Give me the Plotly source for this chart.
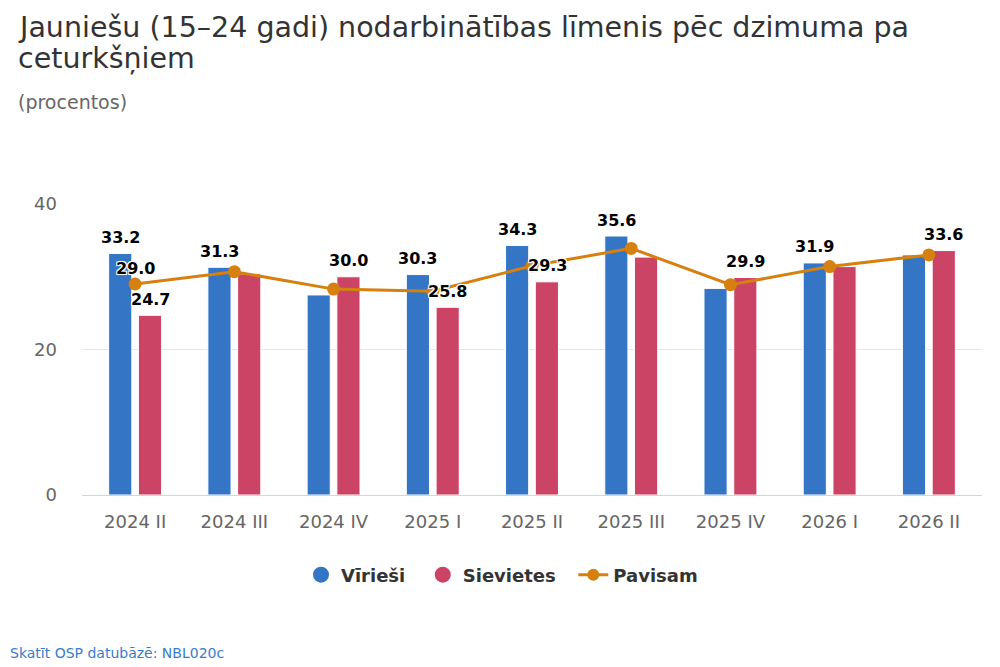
import plotly.graph_objects as go

categories = ["2024 II", "2024 III", "2024 IV", "2025 I", "2025 II",
              "2025 III", "2025 IV", "2026 I", "2026 II"]
male = [33.2, 31.3, 27.5, 30.3, 34.3, 35.6, 28.4, 31.9, 33.0]
female = [24.7, 30.4, 30.0, 25.8, 29.3, 32.7, 29.9, 31.4, 33.6]
total = [29.0, 30.7, 28.3, 28.0, 31.5, 33.9, 28.9, 31.4, 33.0]

# which data labels are visible (others hidden by overlap in the original)
show_male = [1, 1, 0, 1, 1, 1, 0, 1, 0]
show_female = [1, 0, 1, 1, 1, 0, 1, 0, 1]
show_total = [1, 0, 0, 0, 0, 0, 0, 0, 0]

yticks = [0, 20, 40]

C_M = "#3476c5"
C_F = "#cc4465"
C_T = "#d6800f"
FONT = "DejaVu Sans"
OUTLINE = "1px 1px 0 #fff, -1px -1px 0 #fff, 1px -1px 0 #fff, -1px 1px 0 #fff, 0 0 2px #fff"

# page body has an 8px margin; figure sized so it fills the 1000x667 window
W, H = 992, 659
L, R, T, B = 74, 18, 196, 172
PH = H - T - B  # plot height in px
PW = W - L - R


def py(fig_y):
    return (H - B - fig_y) / PH


def px(fig_x):
    return (fig_x - L) / PW


fig = go.Figure()
fig.add_trace(go.Bar(
    x=categories, y=male, name="Vīrieši",
    marker=dict(color=C_M, line=dict(color="#ffffff", width=1)), showlegend=False))
fig.add_trace(go.Bar(
    x=categories, y=female, name="Sievietes",
    marker=dict(color=C_F, line=dict(color="#ffffff", width=1)), showlegend=False))
fig.add_trace(go.Scatter(
    x=categories, y=total, name="Pavisam", mode="lines+markers",
    line=dict(color=C_T, width=3), marker=dict(color=C_T, size=13),
    cliponaxis=False, showlegend=False))

# legend-only entries
NB = "\u00a0\u00a0"
fig.add_trace(go.Scatter(x=[None], y=[None], mode="markers", name="Vīrieši" + NB,
                         marker=dict(color=C_M, size=20, symbol="circle")))
fig.add_trace(go.Scatter(x=[None], y=[None], mode="markers", name="Sievietes" + NB,
                         marker=dict(color=C_F, size=20, symbol="circle")))
fig.add_trace(go.Scatter(x=[None], y=[None], mode="lines+markers", name="Pavisam",
                         line=dict(color=C_T, width=3), marker=dict(color=C_T, size=12)))

lab_font = dict(family=FONT, size=16, color="#000000", weight="bold", shadow=OUTLINE)
annotations = []
for vals, mask, dx in ((male, show_male, -15), (female, show_female, 15), (total, show_total, 0)):
    for c, v, m in zip(categories, vals, mask):
        if m:
            annotations.append(dict(x=c, y=v, xref="x", yref="y", text=f"{v:.1f}",
                                    showarrow=False, xshift=dx, yshift=16,
                                    xanchor="center", yanchor="middle", font=lab_font))

annotations += [
    dict(text="Jauniešu (15–24 gadi) nodarbinātības līmenis pēc dzimuma pa",
         xref="paper", yref="paper", x=px(8), y=py(19.5), xanchor="left", yanchor="middle",
         showarrow=False, font=dict(family=FONT, size=28.5, color="#333333")),
    dict(text="ceturkšņiem",
         xref="paper", yref="paper", x=px(8), y=py(50.5), xanchor="left", yanchor="middle",
         showarrow=False, font=dict(family=FONT, size=28.5, color="#333333")),
    dict(text="(procentos)", xref="paper", yref="paper",
         x=px(8), y=py(94), xanchor="left", yanchor="middle",
         showarrow=False, font=dict(family=FONT, size=19, color="#666666")),
    dict(text="Skatīt OSP datubāzē: NBL020c", xref="paper", yref="paper",
         x=px(0), y=py(645), xanchor="left", yanchor="middle",
         showarrow=False, font=dict(family=FONT, size=14, color="#3a7ccc")),
]

fig.update_layout(
    width=W, height=H,
    margin=dict(l=L, r=R, t=T, b=B),
    paper_bgcolor="#ffffff", plot_bgcolor="#ffffff",
    font=dict(family=FONT, color="#333333"),
    barmode="group", bargap=0.4, bargroupgap=0.222,
    legend=dict(orientation="h", x=0.5 - 30 / PW, xanchor="center", y=py(567), yanchor="middle",
                font=dict(family=FONT, size=18, color="#333333", weight="bold"),
                itemsizing="trace", traceorder="normal"),
    xaxis=dict(showgrid=False, showline=True, linecolor="#ccd6eb", linewidth=1,
               ticks="", tickfont=dict(family=FONT, size=18, color="#666666"),
               ticklabelstandoff=10, fixedrange=True),
    yaxis=dict(range=[0, 40], tickvals=yticks, showgrid=True, gridcolor="#e6e6e6",
               gridwidth=1, zeroline=False, showline=False, ticks="",
               tickfont=dict(family=FONT, size=18, color="#666666"),
               ticklabelstandoff=24, fixedrange=True),
    annotations=annotations,
)

fig.write_html("out.html")
